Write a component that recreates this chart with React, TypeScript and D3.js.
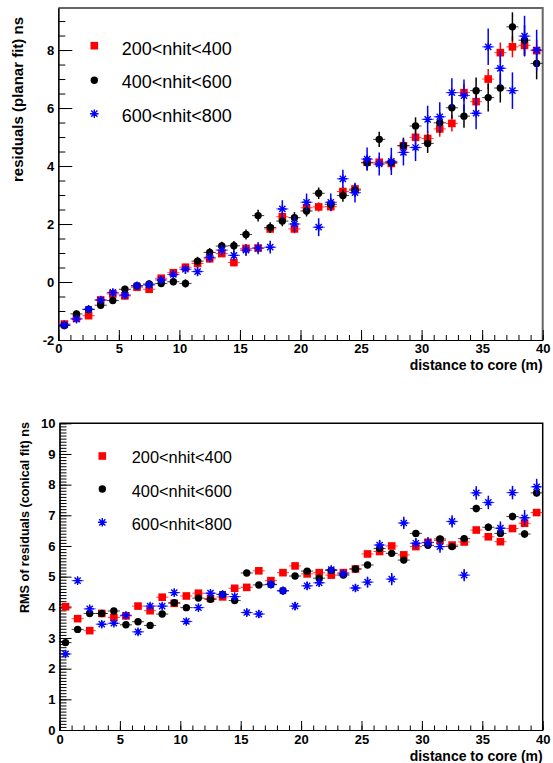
import React, { useRef, useEffect } from 'react';
import * as d3 from 'd3';

// Bin centres of distance to core (m)
const distance = [0.5, 1.5, 2.5, 3.5, 4.5, 5.5, 6.5, 7.5, 8.5, 9.5,
    10.5, 11.5, 12.5, 13.5, 14.5, 15.5, 16.5, 17.5, 18.5, 19.5,
    20.5, 21.5, 22.5, 23.5, 24.5, 25.5, 26.5, 27.5, 28.5, 29.5,
    30.5, 31.5, 32.5, 33.5, 34.5, 35.5, 36.5, 37.5, 38.5, 39.5];

const legendLabels = ["200<nhit<400", "400<nhit<600", "600<nhit<800"];

// Residuals (planar fit) ns
const planar200 = [-1.45, -1.25, -1.16, -0.62, -0.41, -0.48, -0.18, -0.25, 0.13, 0.32,
    0.51, 0.64, 0.80, 0.98, 0.67, 1.16, 1.17, 1.83, 2.25, 1.83,
    2.56, 2.59, 2.60, 3.12, 3.21, 4.13, 4.13, 4.09, 4.70, 4.99,
    4.95, 5.28, 5.47, 6.53, 6.22, 7.00, 7.91, 8.11, 8.16, 7.98];
const planar400 = [-1.50, -1.10, -0.95, -0.80, -0.64, -0.25, -0.13, -0.07, -0.05, 0.01,
    -0.05, 0.72, 1.02, 1.24, 1.25, 1.64, 2.29, 1.88, 2.10, 2.22,
    2.45, 3.06, 2.68, 2.98, 3.17, 4.11, 4.92, 4.12, 4.70, 5.38,
    4.78, 5.49, 6.01, 5.72, 6.60, 6.36, 6.69, 8.80, 8.34, 7.54];
const planar600 = [-1.48, -1.28, -0.94, -0.62, -0.36, -0.45, -0.13, -0.10, 0.07, 0.26,
    0.44, 0.36, 0.85, 1.10, 0.92, 1.10, 1.17, 1.20, 2.52, 2.00,
    2.75, 1.89, 2.75, 3.56, 3.08, 4.24, 4.07, 4.16, 4.47, 4.64,
    5.61, 5.70, 6.53, 6.43, 5.82, 8.11, 7.37, 6.60, 8.48, 8.00];
const planarErr200 = [0.1, 0.1, 0.1, 0.1, 0.1, 0.1, 0.1, 0.1, 0.1, 0.1,
    0.12, 0.12, 0.12, 0.12, 0.13, 0.13, 0.13, 0.14, 0.15, 0.15,
    0.15, 0.16, 0.16, 0.17, 0.17, 0.2, 0.2, 0.21, 0.22, 0.23,
    0.25, 0.27, 0.28, 0.3, 0.3, 0.35, 0.35, 0.36, 0.37, 0.38];
const planarErr400 = [0.12, 0.12, 0.12, 0.12, 0.12, 0.12, 0.12, 0.12, 0.12, 0.12,
    0.14, 0.15, 0.15, 0.15, 0.16, 0.17, 0.2, 0.18, 0.18, 0.19,
    0.19, 0.2, 0.2, 0.21, 0.22, 0.25, 0.26, 0.27, 0.28, 0.3,
    0.33, 0.35, 0.37, 0.4, 0.45, 0.48, 0.5, 0.5, 0.52, 0.55];
const planarErr600 = [0.12, 0.12, 0.12, 0.12, 0.13, 0.13, 0.13, 0.14, 0.14, 0.15,
    0.16, 0.16, 0.17, 0.18, 0.19, 0.2, 0.21, 0.22, 0.3, 0.28,
    0.3, 0.31, 0.3, 0.31, 0.34, 0.4, 0.4, 0.47, 0.45, 0.47,
    0.47, 0.5, 0.5, 0.55, 0.55, 0.63, 0.6, 0.63, 0.7, 0.7];

// RMS of residuals (conical fit) ns
const conical200 = [4.02, 3.63, 3.24, 3.80, 3.67, 3.72, 4.04, 3.89, 4.33, 4.13,
    4.37, 4.46, 4.29, 4.34, 4.62, 4.65, 5.19, 4.87, 5.13, 5.35,
    5.09, 5.13, 5.05, 5.13, 5.25, 5.74, 5.82, 6.00, 5.71, 5.98,
    6.12, 6.18, 6.03, 6.13, 6.52, 6.30, 6.14, 6.57, 6.74, 7.09];
const conical400 = [2.85, 3.28, 3.80, 3.80, 3.88, 3.43, 3.53, 3.41, 3.78, 4.15,
    3.99, 4.30, 4.26, 4.42, 4.22, 5.12, 4.73, 4.74, 4.54, 5.02,
    5.18, 4.95, 5.20, 5.05, 5.25, 5.38, 5.92, 5.76, 5.54, 6.41,
    6.02, 6.23, 5.98, 6.24, 7.22, 6.61, 6.41, 6.96, 6.39, 7.73];
const conical600 = [2.48, 4.87, 3.95, 3.45, 3.48, 3.74, 3.20, 4.04, 4.04, 4.48,
    3.54, 3.99, 4.46, 4.42, 4.35, 3.83, 3.78, 4.75, 4.54, 4.04,
    4.70, 4.80, 5.23, 5.09, 4.63, 4.82, 6.03, 4.92, 6.75, 6.09,
    6.11, 5.98, 6.80, 5.05, 7.73, 7.42, 6.58, 7.74, 6.92, 7.93];
const conicalErr200 = [0.06, 0.06, 0.06, 0.06, 0.06, 0.06, 0.06, 0.06, 0.06, 0.06,
    0.06, 0.06, 0.06, 0.06, 0.06, 0.07, 0.07, 0.07, 0.07, 0.07,
    0.07, 0.07, 0.07, 0.07, 0.07, 0.08, 0.08, 0.08, 0.08, 0.08,
    0.08, 0.08, 0.08, 0.1, 0.1, 0.1, 0.1, 0.1, 0.1, 0.1];
const conicalErr400 = [0.07, 0.07, 0.07, 0.07, 0.07, 0.07, 0.07, 0.07, 0.07, 0.07,
    0.07, 0.07, 0.07, 0.07, 0.07, 0.08, 0.08, 0.08, 0.08, 0.08,
    0.08, 0.08, 0.08, 0.08, 0.08, 0.1, 0.1, 0.1, 0.1, 0.1,
    0.1, 0.1, 0.1, 0.12, 0.12, 0.12, 0.12, 0.12, 0.12, 0.12];
const conicalErr600 = [0.1, 0.1, 0.1, 0.1, 0.1, 0.1, 0.1, 0.1, 0.1, 0.1,
    0.1, 0.1, 0.1, 0.1, 0.1, 0.13, 0.13, 0.13, 0.13, 0.13,
    0.13, 0.13, 0.13, 0.13, 0.13, 0.18, 0.17, 0.2, 0.2, 0.18,
    0.18, 0.2, 0.2, 0.2, 0.22, 0.22, 0.22, 0.22, 0.25, 0.26];

// Tick labels
const xTicks = [0, 5, 10, 15, 20, 25, 30, 35, 40];
const planarYTicks = [-2, 0, 2, 4, 6, 8];
const conicalYTicks = [0, 1, 2, 3, 4, 5, 6, 7, 8, 9, 10];

const FONT = "'Liberation Sans', Arial, Helvetica, sans-serif";
const colors = ["#ff0000", "#000000", "#0000ff"];
const markers = ["square", "circle", "star"];

const drawMarker = (g: any, type: string, cx: number, cy: number, color: string) => {
    if (type === "square") {
        g.append("rect").attr("x", cx - 3.8).attr("y", cy - 3.8)
            .attr("width", 7.6).attr("height", 7.6).attr("fill", color);
    } else if (type === "circle") {
        g.append("circle").attr("cx", cx).attr("cy", cy).attr("r", 3.7).attr("fill", color);
    } else {
        const s = 4.3, d = s * 0.72;
        g.append("path")
            .attr("d", `M${cx - s},${cy}H${cx + s}M${cx},${cy - s}V${cy + s}` +
                `M${cx - d},${cy - d}L${cx + d},${cy + d}M${cx - d},${cy + d}L${cx + d},${cy - d}`)
            .attr("stroke", color).attr("stroke-width", 1.4).attr("fill", "none");
    }
}

const drawPanel = (svg: any, p: any) => {
    const g = svg.append("g");

    // Initiate Scales
    const x = d3.scaleLinear().domain([0, 40]).range([p.left, p.right]);
    const y = d3.scaleLinear().domain(p.yDomain).range([p.bottom, p.top]);

    // Frame (top and right)
    g.append("path")
        .attr("d", `M${p.left},${p.top}H${p.right}V${p.bottom}`)
        .attr("fill", "none").attr("stroke", p.frameColor).attr("stroke-width", p.frameWidth);

    // Minor ticks
    g.append("g").attr("transform", `translate(${p.left},0)`)
        .call(d3.axisLeft(y).tickValues(p.yMinor).tickSizeInner(-p.yMinorLen).tickSizeOuter(0).tickFormat(() => ""));
    g.append("g").attr("transform", `translate(0,${p.bottom})`)
        .call(d3.axisBottom(x).tickValues(d3.range(0, 41, 1)).tickSizeInner(-p.xMinorLen).tickSizeOuter(0).tickFormat(() => ""));

    // Major ticks + labels
    const yAxis = g.append("g").attr("transform", `translate(${p.left},0)`)
        .call(d3.axisLeft(y).tickValues(p.yTicks).tickSizeInner(-p.yMajorLen).tickSizeOuter(0).tickPadding(4)
            .tickFormat((v: any) => String(v)));
    const xAxis = g.append("g").attr("transform", `translate(0,${p.bottom})`)
        .call(d3.axisBottom(x).tickValues(xTicks).tickSizeInner(-p.xMajorLen).tickSizeOuter(0).tickPadding(p.xPad)
            .tickFormat((v: any) => String(v)));

    g.selectAll(".domain").attr("stroke", "#000").attr("stroke-width", 1.2);
    g.selectAll(".tick line").attr("stroke", "#000").attr("stroke-width", 1);
    [yAxis, xAxis].forEach(a => a.selectAll("text")
        .style("font-family", FONT).style("font-weight", "bold").style("font-size", "13px").attr("fill", "#000"));

    // Axis titles
    g.append("text")
        .attr("transform", `translate(${p.yTitleX},${p.yTitleY}) rotate(-90)`)
        .attr("text-anchor", "end")
        .style("font-family", FONT).style("font-weight", "bold").style("font-size", p.yTitleSize + "px")
        .text(p.yTitle);
    g.append("text")
        .attr("x", p.right).attr("y", p.xTitleY)
        .attr("text-anchor", "end")
        .style("font-family", FONT).style("font-weight", "bold").style("font-size", "14px")
        .text("distance to core (m)");

    // Draw the points: error bars first, then markers
    const plot = g.append("g");
    p.series.forEach((s: any, k: number) => {
        const c = colors[k];
        distance.forEach((d, i) => {
            const v = s.values[i], e = s.errors[i];
            plot.append("line")
                .attr("x1", x(d - 0.5)).attr("x2", x(d + 0.5)).attr("y1", y(v)).attr("y2", y(v))
                .attr("stroke", c).attr("stroke-width", 1).attr("opacity", 0.75);
            plot.append("line")
                .attr("x1", x(d)).attr("x2", x(d)).attr("y1", y(v - e)).attr("y2", y(v + e))
                .attr("stroke", c).attr("stroke-width", 1.5);
            drawMarker(plot, markers[k], x(d), y(v), c);
        });
    });

    // Legend
    legendLabels.forEach((lab, k) => {
        drawMarker(g, markers[k], p.legX, p.legY[k], colors[k]);
        g.append("text")
            .attr("x", p.legTextX).attr("y", p.legBase[k])
            .style("font-family", FONT).style("font-size", p.legSize + "px")
            .text(lab);
    });
}

const topPanel = {
    left: 58.3, right: 542.7, top: 8, bottom: 340, yDomain: [-2, 9.45],
    yTicks: planarYTicks, yMinor: d3.range(-2, 9.5, 0.5),
    yMajorLen: 14, yMinorLen: 7, xMajorLen: 10, xMinorLen: 5, xPad: 4,
    frameColor: "#666", frameWidth: 2,
    yTitle: "residuals (planar fit) ns", yTitleX: 23, yTitleY: 17, yTitleSize: 15,
    xTitleY: 370,
    legX: 94.3, legY: [45.7, 80.3, 113.7], legTextX: 121.7, legBase: [55, 87.5, 121.7], legSize: 18,
    series: [
        { values: planar200, errors: planarErr200 },
        { values: planar400, errors: planarErr400 },
        { values: planar600, errors: planarErr600 },
    ],
};

const bottomPanel = {
    left: 59.5, right: 542.7, top: 423.3, bottom: 730, yDomain: [0, 10],
    yTicks: conicalYTicks, yMinor: d3.range(0, 10.01, 0.1),
    yMajorLen: 12, yMinorLen: 7, xMajorLen: 9, xMinorLen: 4.5, xPad: 5,
    frameColor: "#000", frameWidth: 1.5,
    yTitle: "RMS of residuals (conical fit) ns", yTitleX: 29, yTitleY: 422, yTitleSize: 12.6,
    xTitleY: 760.5,
    legX: 102.3, legY: [456, 489, 522.3], legTextX: 131.7, legBase: [463.3, 496.7, 530], legSize: 16.4,
    series: [
        { values: conical200, errors: conicalErr200 },
        { values: conical400, errors: conicalErr400 },
        { values: conical600, errors: conicalErr600 },
    ],
};

const App = () => {
    const svgRef = useRef<SVGSVGElement>(null);

    useEffect(() => {
        const svg = d3.select(svgRef.current);
        svg.selectAll("*").remove();
        drawPanel(svg, topPanel);
        drawPanel(svg, bottomPanel);
    }, []);

    return (
        <svg ref={svgRef} width={553} height={763}
            style={{ position: "absolute", left: 0, top: 0, background: "#fff" }} />
    )
}

export default App
